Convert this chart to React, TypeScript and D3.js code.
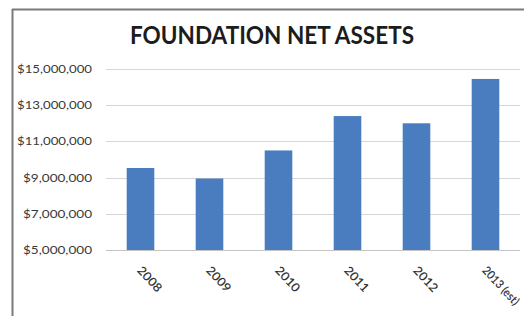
import React from "react";
import * as d3 from "d3";

const categories = ["2008", "2009", "2010", "2011", "2012", "2013 (est)"];
const netAssets = [9530000, 8950000, 10500000, 12400000, 12000000, 14450000];
const yTicks = [5000000, 7000000, 9000000, 11000000, 13000000, 15000000];
const title = "FOUNDATION NET ASSETS";

export default function App() {
  const W = 524;
  const H = 316;
  const left = 106;
  const right = 520;
  const top = 69;
  const bottom = 250;

  const x = d3
    .scaleBand<string>()
    .domain(categories)
    .range([left, right])
    .paddingInner(0.6)
    .paddingOuter(0.3);
  const y = d3.scaleLinear().domain([5000000, 15000000]).range([bottom, top]);
  const fmt = (v: number) => "$" + d3.format(",")(v);

  return (
    <svg
      width={W}
      height={H}
      style={{ position: "absolute", left: 0, top: 0, background: "#fff" }}
      fontFamily="Lato, 'Open Sans', sans-serif"
    >
      <rect x={0} y={0} width={W} height={H} fill="#fff" />
      {/* outer border */}
      <line x1={12.5} y1={9} x2={12.5} y2={H} stroke="#7a7a7a" strokeWidth={2} />
      <line x1={12} y1={9.5} x2={W} y2={9.5} stroke="#7a7a7a" strokeWidth={2} />

      <text
        x={272}
        y={44}
        textAnchor="middle"
        fontSize={25}
        fontWeight={700}
        fill="#1c1c1c"
        textLength={284}
        lengthAdjust="spacingAndGlyphs"
      >
        {title}
      </text>

      {yTicks.map((t) => (
        <g key={t}>
          <line
            x1={left}
            x2={right}
            y1={Math.round(y(t)) + 0.5}
            y2={Math.round(y(t)) + 0.5}
            stroke={t === 5000000 ? "#c4c4c4" : "#d6d6d6"}
            strokeWidth={1}
          />
          <text
            x={92}
            y={y(t) + 4}
            textAnchor="end"
            fontSize={11}
            fill="#3a3a3a"
            textLength={75 - (t < 10000000 ? 6 : 0)}
            lengthAdjust="spacingAndGlyphs"
          >
            {fmt(t)}
          </text>
        </g>
      ))}

      {categories.map((c, i) => (
        <rect
          key={c}
          x={x(c)!}
          y={y(netAssets[i])}
          width={x.bandwidth()}
          height={bottom - y(netAssets[i])}
          fill="#4a7dc0"
        />
      ))}

      {categories.map((c) => {
        const cx = x(c)! + x.bandwidth() / 2 - 4;
        const cy = bottom + 21;
        return (
          <text
            key={c}
            x={cx}
            y={cy}
            fontSize={12}
            fontWeight={600}
            fill="#333"
            textLength={c.length > 4 ? 48 : 30}
            lengthAdjust="spacingAndGlyphs"
            transform={`rotate(47 ${cx} ${cy})`}
          >
            {c}
          </text>
        );
      })}
    </svg>
  );
}
